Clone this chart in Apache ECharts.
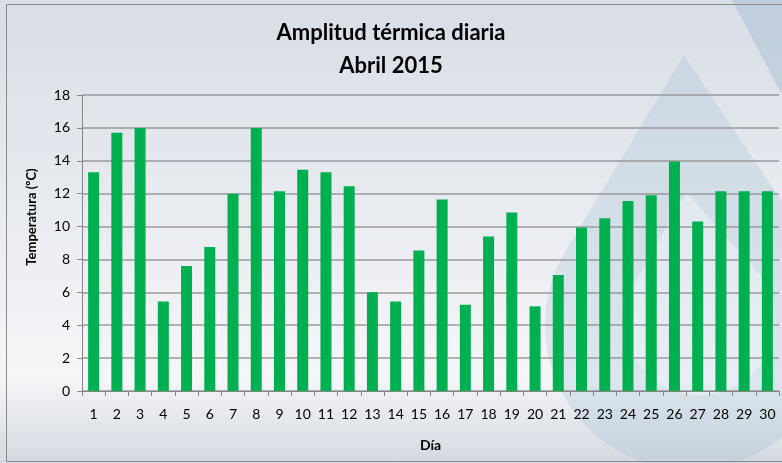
<!DOCTYPE html>
<html>
<head>
<meta charset="utf-8">
<script src="https://cdn.jsdelivr.net/npm/echarts@6/dist/echarts.min.js"></script>
<style>
html,body{margin:0;padding:0;background:#fff;}
#c{width:782px;height:463px;}
</style>
</head>
<body>
<div id="c"></div>
<script>
const days = ['1','2','3','4','5','6','7','8','9','10','11','12','13','14','15','16','17','18','19','20','21','22','23','24','25','26','27','28','29','30'];
const amplitud = [13.3, 15.7, 16, 5.45, 7.6, 8.75, 12, 16, 12.15, 13.45, 13.3, 12.45, 6, 5.45, 8.55, 11.65, 5.25, 9.4, 10.85, 5.15, 7.05, 9.95, 10.5, 11.55, 11.9, 13.95, 10.3, 12.15, 12.15, 12.15];
const titleText = 'Amplitud térmica diaria\nAbril 2015';
const xName = 'Día';
const yName = 'Temperatura (ºC)';

// decorative watermark drop outline (background only)
function dropShape(ax, ay, cx, cy, r) {
  const d = cy - ay;
  const a = Math.acos(r / d);
  const pts = [[ax, ay]];
  const n = 48;
  for (let i = 0; i <= n; i++) {
    const t = -a - (2 * Math.PI - 2 * a) * i / n;
    pts.push([cx + r * Math.sin(t), cy - r * Math.cos(t)]);
  }
  return pts;
}

const font = 'Lato, "Open Sans", "Liberation Sans", sans-serif';
const chart = echarts.init(document.getElementById('c'), null, {renderer: 'canvas'});
chart.setOption({
  animation: false,
  backgroundColor: {
    type: 'linear', x: 0, y: 0, x2: 0, y2: 1,
    colorStops: [
      {offset: 0, color: '#d8dde6'},
      {offset: 0.45, color: '#e8ebf0'},
      {offset: 0.82, color: '#f5f6f8'},
      {offset: 0.86, color: '#eceef2'},
      {offset: 1, color: '#d4d9e1'}
    ]
  },
  graphic: [
    {type: 'polygon', silent: true, z: -10,
     shape: {points: [[732, 0], [782, 0], [782, 95]]},
     style: {fill: 'rgba(140,175,200,0.32)'}},
    {type: 'polygon', silent: true, z: -10,
     shape: {points: dropShape(684, 55, 690, 325, 145)},
     style: {fill: 'rgba(150,185,210,0.26)'}},
    {type: 'polygon', silent: true, z: -9,
     shape: {points: dropShape(686, 192, 700, 320, 75)},
     style: {fill: 'rgba(245,248,250,0.45)'}},
    {type: 'rect', silent: true, z: 100,
     shape: {x: 6.5, y: 4.5, width: 800, height: 457},
     style: {fill: 'none', stroke: '#8a8a8a', lineWidth: 1}}
  ],
  title: {
    text: titleText,
    left: 'center',
    top: 11,
    textStyle: {fontFamily: font, fontWeight: 'bold', fontSize: 22, color: '#000', lineHeight: 33}
  },
  grid: {left: 82, right: 3, top: 95, bottom: 72, containLabel: false},
  xAxis: {
    type: 'category',
    data: days,
    name: xName,
    nameLocation: 'middle',
    nameGap: 47,
    nameTextStyle: {fontFamily: font, fontWeight: 'bold', fontSize: 14, color: '#000'},
    axisLine: {lineStyle: {color: '#868686', width: 1}},
    axisTick: {show: true, length: 5, lineStyle: {color: '#868686'}},
    axisLabel: {fontFamily: font, fontSize: 14, color: '#000', margin: 16, interval: 0}
  },
  yAxis: {
    type: 'value',
    min: 0, max: 18, interval: 2,
    name: yName,
    nameLocation: 'middle',
    nameGap: 44,
    nameRotate: 90,
    nameTextStyle: {fontFamily: font, fontWeight: 'bold', fontSize: 13, color: '#000', padding: [0, 0, 0, 52]},
    axisLine: {show: true, lineStyle: {color: '#868686', width: 1}},
    axisTick: {show: true, length: 5, lineStyle: {color: '#868686'}},
    axisLabel: {fontFamily: font, fontSize: 14, color: '#000', margin: 12},
    splitLine: {lineStyle: {color: '#9a9a9a', width: 1.5}}
  },
  series: [{
    type: 'bar',
    data: amplitud,
    barWidth: 11,
    itemStyle: {color: '#00b050'}
  }]
});
</script>
</body>
</html>
